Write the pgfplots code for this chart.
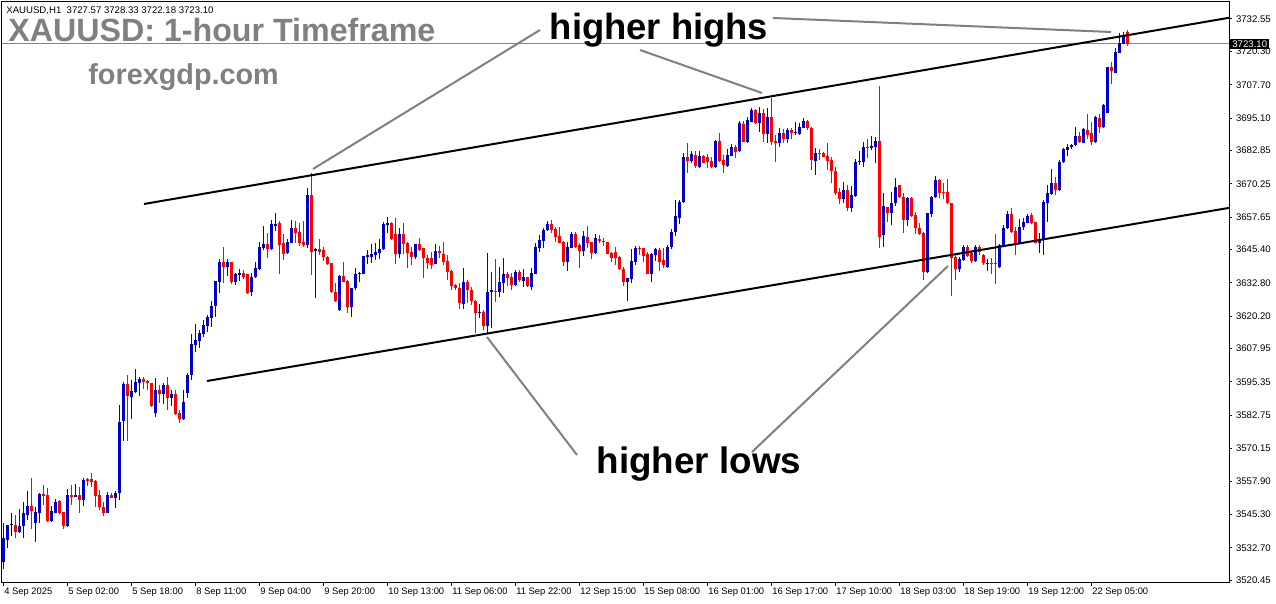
\documentclass[border=0pt]{standalone}
\usepackage{pgfplots}
\pgfplotsset{compat=1.18}
\usepackage{pgfplotstable}
\usepackage{fontspec}
\setmainfont{Liberation Sans}
\definecolor{bull}{RGB}{0,0,205}
\definecolor{bear}{RGB}{255,0,0}
\definecolor{annot}{RGB}{128,128,128}
\definecolor{pline}{RGB}{119,136,153}
% bullish (blue) candles: bar index, open, high, low, close
\pgfplotstableread{
k o h l c
0 3527.4 3541.9 3524.5 3536.2
1 3535.6 3541.3 3532.7 3541.3
4 3538.8 3547.3 3538.4 3540.9
5 3540.9 3550.0 3536.5 3545.9
6 3545.1 3554.1 3543.2 3548.5
8 3542.2 3548.2 3535.0 3546.3
9 3545.9 3553.3 3542.2 3553.0
12 3542.8 3548.5 3542.5 3546.6
13 3545.7 3551.0 3545.7 3550.1
16 3541.0 3554.8 3540.6 3552.6
18 3552.0 3556.8 3552.0 3552.8
20 3550.7 3558.9 3548.6 3558.3
26 3545.9 3553.9 3545.7 3552.6
28 3551.6 3554.3 3547.8 3553.4
29 3553.5 3586.6 3550.7 3580.3
30 3580.7 3595.5 3573.2 3594.6
32 3589.8 3595.9 3581.3 3591.9
33 3591.7 3600.2 3591.1 3595.2
34 3595.1 3597.3 3590.2 3596.5
38 3583.7 3596.7 3582.2 3592.3
40 3590.8 3594.8 3587.0 3594.2
42 3589.4 3592.3 3586.3 3590.8
45 3581.3 3592.3 3581.0 3587.6
46 3591.3 3598.9 3589.2 3598.0
47 3598.0 3613.5 3596.1 3609.6
48 3609.3 3617.3 3606.8 3611.2
49 3610.8 3615.0 3608.1 3613.7
50 3613.3 3618.8 3612.5 3616.9
51 3616.5 3620.7 3614.4 3620.0
52 3619.7 3626.1 3616.0 3624.2
53 3624.2 3633.6 3620.0 3633.5
54 3633.3 3641.7 3628.8 3640.8
56 3638.7 3641.8 3635.4 3640.8
58 3633.3 3636.7 3632.0 3636.2
59 3635.8 3637.9 3633.6 3636.7
62 3629.5 3636.4 3627.8 3635.2
63 3634.9 3640.8 3634.5 3638.6
64 3637.9 3648.4 3637.7 3646.5
65 3645.9 3654.3 3645.2 3647.5
67 3645.5 3656.6 3645.2 3655.1
68 3654.3 3659.3 3652.4 3655.1
71 3644.0 3649.3 3643.7 3648.4
72 3648.0 3656.6 3647.8 3653.4
76 3647.1 3668.5 3645.9 3666.0
78 3645.0 3645.9 3627.0 3645.5
84 3622.5 3635.8 3622.2 3635.4
87 3623.8 3631.0 3620.0 3630.7
88 3630.7 3638.5 3630.1 3636.0
89 3636.0 3637.0 3633.0 3636.7
90 3636.2 3643.1 3636.2 3642.9
91 3642.7 3645.2 3639.8 3643.3
92 3642.7 3647.4 3640.4 3643.7
93 3643.3 3648.0 3641.4 3644.3
94 3644.0 3649.3 3641.7 3645.5
95 3645.5 3655.9 3645.2 3655.1
96 3654.7 3657.7 3651.5 3655.6
99 3643.9 3653.7 3642.1 3651.1
103 3642.7 3647.5 3641.7 3647.5
108 3639.8 3647.4 3639.8 3644.9
115 3624.7 3638.3 3622.9 3633.3
119 3621.5 3624.7 3619.4 3621.9
121 3616.6 3644.2 3613.7 3629.2
122 3629.2 3637.0 3615.6 3630.1
124 3629.5 3638.9 3627.6 3633.3
125 3632.9 3642.1 3628.9 3636.0
128 3632.0 3637.7 3631.8 3636.8
130 3633.6 3637.9 3631.4 3635.2
132 3631.4 3638.5 3630.1 3636.7
133 3636.2 3647.7 3636.0 3646.5
134 3646.1 3650.9 3644.6 3649.0
135 3648.8 3653.7 3646.1 3652.8
136 3652.8 3656.2 3652.4 3654.9
141 3640.8 3648.4 3637.4 3646.5
142 3646.1 3652.2 3645.9 3651.3
145 3645.0 3652.4 3643.1 3650.5
148 3644.2 3651.2 3643.9 3649.6
156 3633.3 3634.8 3626.1 3634.5
157 3634.3 3645.5 3632.6 3641.1
158 3640.8 3646.9 3639.6 3646.1
162 3636.2 3644.2 3633.3 3643.7
163 3643.3 3645.9 3641.1 3645.5
166 3638.9 3647.0 3638.3 3646.5
167 3646.5 3653.0 3645.5 3652.0
168 3652.0 3664.1 3650.5 3658.0
169 3657.5 3664.0 3655.0 3663.5
170 3663.2 3681.8 3662.9 3680.5
172 3678.9 3682.7 3678.0 3681.5
174 3676.7 3682.7 3676.4 3680.8
178 3676.7 3686.8 3676.1 3686.4
181 3677.0 3683.3 3676.7 3681.1
182 3680.9 3685.2 3680.8 3684.3
184 3682.7 3694.0 3682.4 3693.1
186 3686.2 3695.6 3685.8 3694.4
187 3693.7 3698.8 3693.5 3698.2
189 3693.1 3699.4 3690.0 3696.9
191 3689.0 3698.8 3685.8 3695.6
194 3685.8 3691.2 3684.3 3689.3
196 3687.2 3691.2 3685.6 3690.6
198 3689.3 3693.5 3688.7 3689.4
199 3689.1 3693.4 3688.7 3691.9
200 3691.5 3695.3 3691.2 3694.0
203 3679.0 3683.7 3673.6 3682.0
210 3664.5 3671.1 3662.9 3667.9
212 3661.2 3669.4 3659.7 3666.0
213 3665.7 3679.5 3665.4 3678.6
214 3678.6 3682.8 3677.4 3679.0
215 3678.6 3686.1 3676.5 3684.3
217 3683.7 3688.3 3683.0 3684.5
218 3684.3 3687.8 3678.2 3686.4
220 3650.9 3666.7 3646.2 3661.9
222 3659.3 3667.3 3654.7 3662.9
223 3662.9 3672.3 3661.9 3668.9
226 3656.6 3665.4 3654.3 3664.8
231 3637.0 3659.3 3636.7 3659.1
232 3658.7 3665.6 3657.8 3665.4
233 3665.1 3673.2 3664.8 3671.7
239 3637.9 3642.5 3637.0 3641.7
240 3641.5 3647.1 3641.2 3646.5
243 3641.2 3647.1 3640.8 3646.2
246 3639.8 3641.7 3637.3 3640.2
249 3638.9 3647.5 3638.3 3647.1
250 3647.1 3654.7 3646.7 3653.4
251 3653.4 3660.1 3653.2 3658.8
254 3647.8 3656.8 3647.5 3653.8
255 3653.8 3657.2 3652.8 3655.9
256 3655.6 3658.7 3655.3 3658.2
259 3648.0 3651.5 3644.2 3649.3
260 3649.0 3664.1 3643.3 3663.5
261 3663.1 3669.8 3655.9 3666.7
262 3666.4 3675.7 3666.0 3670.4
264 3667.9 3679.3 3667.7 3678.6
265 3678.3 3683.7 3678.0 3683.4
266 3683.0 3685.3 3680.8 3684.0
267 3684.0 3685.3 3683.3 3684.9
268 3684.9 3691.9 3684.5 3688.3
270 3685.8 3691.2 3685.6 3690.8
273 3686.2 3695.9 3685.8 3695.6
275 3691.6 3700.4 3691.2 3700.0
276 3697.1 3714.5 3696.9 3714.5
278 3712.3 3721.5 3712.0 3720.2
279 3719.8 3727.1 3719.6 3723.4
280 3723.1 3727.8 3723.1 3726.5
}\bullT
% bearish (red) candles
\pgfplotstableread{
k o h l c
3 3541.2 3545.1 3536.5 3538.8
7 3548.5 3559.2 3539.8 3546.6
10 3553.0 3556.4 3548.8 3552.2
11 3552.6 3555.1 3542.5 3542.8
14 3550.3 3550.7 3545.4 3545.7
15 3546.1 3546.3 3539.8 3541.0
17 3552.6 3556.4 3548.8 3552.0
19 3552.6 3555.8 3545.9 3550.7
21 3558.7 3558.9 3556.0 3558.0
22 3558.7 3560.8 3555.8 3557.7
23 3558.0 3558.3 3548.2 3552.4
24 3552.6 3554.5 3547.0 3548.2
25 3548.0 3550.1 3544.7 3545.9
27 3552.6 3553.5 3551.4 3551.6
31 3594.6 3598.0 3573.2 3590.2
35 3596.3 3597.1 3592.6 3595.5
36 3595.7 3596.1 3592.3 3594.8
37 3595.1 3595.1 3586.0 3586.4
39 3592.3 3594.2 3587.3 3590.8
41 3594.2 3597.3 3584.8 3589.4
43 3590.8 3592.3 3582.9 3583.2
44 3583.7 3584.8 3579.7 3581.5
55 3640.8 3646.2 3632.9 3638.9
57 3640.8 3640.8 3632.4 3633.3
60 3636.7 3637.7 3634.3 3635.2
61 3636.0 3636.0 3628.6 3629.1
66 3647.5 3651.8 3642.1 3645.5
69 3655.6 3656.0 3636.2 3647.1
70 3647.8 3651.3 3641.5 3643.7
73 3653.4 3656.0 3647.8 3651.8
74 3652.2 3655.6 3646.8 3647.8
75 3648.4 3656.0 3646.3 3647.1
77 3666.0 3674.2 3635.8 3644.6
79 3645.5 3649.3 3643.3 3644.6
80 3645.2 3646.2 3641.2 3642.7
81 3642.7 3642.9 3639.6 3640.0
82 3640.2 3640.4 3628.9 3629.5
83 3629.5 3632.6 3625.7 3626.1
85 3635.4 3640.8 3633.0 3633.3
86 3633.5 3633.9 3621.3 3623.8
97 3655.6 3655.9 3649.0 3649.3
98 3651.1 3657.2 3639.8 3643.9
100 3651.1 3655.3 3643.9 3647.4
101 3647.7 3648.4 3638.5 3644.2
102 3644.6 3646.5 3639.6 3642.7
104 3647.5 3649.9 3644.9 3645.2
105 3645.9 3645.9 3634.8 3642.1
106 3642.3 3643.3 3637.9 3640.2
107 3642.3 3644.6 3637.9 3639.6
109 3644.9 3646.9 3642.1 3644.0
110 3643.7 3648.4 3639.6 3640.8
111 3641.1 3643.3 3633.9 3637.0
112 3637.3 3637.7 3630.1 3631.6
113 3632.0 3632.3 3630.1 3630.7
114 3631.0 3632.6 3622.9 3625.1
116 3633.3 3633.9 3625.1 3630.1
117 3630.1 3631.4 3624.4 3625.9
118 3625.9 3626.3 3613.7 3621.5
120 3621.9 3622.5 3615.0 3616.6
123 3629.8 3641.8 3625.5 3629.5
126 3636.2 3636.8 3631.8 3634.8
127 3635.2 3636.7 3630.1 3632.0
129 3636.8 3637.7 3633.3 3633.9
131 3635.2 3635.2 3631.4 3631.6
137 3654.9 3656.6 3651.5 3652.8
138 3653.2 3654.0 3648.1 3650.3
139 3650.5 3654.0 3647.7 3648.0
140 3648.4 3648.6 3639.2 3640.8
143 3651.3 3652.2 3645.9 3646.5
144 3647.1 3648.0 3638.3 3645.0
146 3650.0 3654.3 3646.1 3647.7
147 3648.4 3648.4 3641.7 3644.2
149 3649.3 3650.9 3647.7 3648.6
150 3648.8 3649.6 3646.9 3648.1
151 3648.4 3648.4 3643.6 3643.9
152 3644.2 3644.6 3640.8 3642.3
153 3644.6 3646.2 3639.6 3642.1
154 3642.5 3643.1 3637.7 3637.9
155 3638.0 3638.9 3631.6 3633.3
159 3646.1 3646.9 3643.3 3645.5
160 3645.9 3646.1 3640.8 3643.1
161 3643.7 3644.6 3636.2 3636.2
164 3645.2 3645.9 3637.3 3640.8
165 3641.5 3645.9 3638.3 3639.6
171 3680.5 3685.5 3674.5 3678.9
173 3681.1 3682.7 3676.1 3677.0
175 3680.8 3681.1 3678.0 3678.2
176 3680.5 3681.4 3676.1 3678.6
177 3678.9 3680.5 3676.1 3676.7
179 3686.4 3689.3 3678.6 3678.9
180 3679.3 3681.1 3674.5 3677.4
183 3684.3 3684.9 3679.9 3682.4
185 3692.7 3694.0 3686.2 3686.2
188 3698.2 3698.5 3692.9 3693.1
190 3697.1 3698.5 3686.2 3689.0
192 3695.6 3702.8 3684.9 3686.2
193 3686.6 3688.7 3678.6 3685.8
195 3689.3 3690.8 3685.6 3687.2
197 3690.6 3691.2 3687.2 3689.3
201 3694.0 3694.4 3690.6 3691.2
202 3691.2 3691.9 3675.5 3679.3
204 3682.0 3683.3 3679.3 3681.4
205 3682.0 3682.4 3680.3 3680.5
206 3680.7 3685.6 3675.5 3679.0
207 3679.3 3680.5 3670.4 3675.2
208 3675.2 3676.5 3666.0 3666.9
209 3667.3 3668.5 3662.6 3664.5
211 3667.9 3669.8 3660.1 3661.2
216 3684.3 3687.1 3679.9 3683.7
219 3686.4 3707.2 3645.9 3650.0
221 3661.6 3661.6 3655.9 3659.3
224 3669.8 3669.8 3664.8 3665.1
225 3665.1 3666.7 3651.5 3656.6
227 3664.8 3665.1 3657.8 3658.1
228 3658.5 3659.7 3651.3 3653.4
229 3653.4 3655.3 3650.9 3651.3
230 3651.8 3652.2 3633.9 3637.0
234 3671.7 3672.0 3664.8 3666.9
235 3667.0 3670.4 3664.4 3666.9
236 3667.0 3672.0 3662.5 3662.9
237 3663.1 3663.1 3627.9 3642.1
238 3642.5 3643.3 3633.9 3637.9
241 3646.5 3647.1 3642.5 3643.0
242 3644.0 3644.6 3640.2 3641.2
244 3646.5 3647.1 3643.3 3644.6
245 3643.3 3643.6 3639.6 3640.2
247 3640.0 3642.1 3636.2 3639.8
248 3640.0 3651.3 3632.3 3639.8
252 3658.8 3661.0 3651.8 3652.2
253 3652.4 3654.1 3643.3 3647.8
257 3658.5 3659.1 3655.1 3655.6
258 3655.7 3655.9 3647.8 3648.0
263 3670.4 3673.0 3666.0 3667.9
269 3688.3 3690.0 3685.6 3686.2
271 3690.6 3696.6 3687.1 3688.7
272 3689.3 3693.7 3684.9 3686.2
274 3695.3 3696.6 3689.6 3691.6
277 3714.5 3716.4 3708.0 3713.0
281 3727.57 3728.33 3722.18 3723.10
}\bearT
% doji (open = close)
\pgfplotstableread{
k o h l c
2 3541.2 3545.9 3537.1 3541.2
}\dojiT
\newcommand{\candleset}[2]{%
  \addplot[#2, line width=0.5pt, forget plot,
    quiver={u=0, v=\thisrow{h}-\thisrow{l}}]
    table[x=k, y=l] {#1};
  \addplot[#2, line width=1.5pt, forget plot,
    quiver={u=0, v={max(abs(\thisrow{c}-\thisrow{o}),0.38)}}]
    table[x=k, y expr={min(\thisrow{o},\thisrow{c})}] {#1};
}
\begin{document}
\begin{tikzpicture}
\fill[white] (0,0) rectangle (638pt,302pt);
\useasboundingbox (0,0) rectangle (638pt,302pt);
\begin{axis}[
  at={(1pt,10.5pt)}, anchor=south west,
  scale only axis, width=613.5pt, height=290.5pt,
  xmin=-0.325, xmax=306.425, ymin=3519.36, ymax=3738.97,
  axis line style={black, line width=0.5pt},
  tick align=outside, major tick length=1.5pt,
  tick style={black, line width=0.5pt},
  xtick pos=bottom, ytick pos=right,
  xtick={0,16,...,272},
  xticklabels={4 Sep 2025,5 Sep 02:00,5 Sep 18:00,8 Sep 11:00,9 Sep 04:00,9 Sep 20:00,10 Sep 13:00,11 Sep 06:00,11 Sep 22:00,12 Sep 15:00,15 Sep 08:00,16 Sep 01:00,16 Sep 17:00,17 Sep 10:00,18 Sep 03:00,18 Sep 19:00,19 Sep 12:00,22 Sep 05:00},
  ytick={3520.45,3532.70,3545.30,3557.90,3570.15,3582.75,3595.35,3607.95,3620.20,3632.80,3645.40,3657.65,3670.25,3682.85,3695.10,3707.70,3720.30,3732.55},
  yticklabels={3520.45,3532.70,3545.30,3557.90,3570.15,3582.75,3595.35,3607.95,3620.20,3632.80,3645.40,3657.65,3670.25,3682.85,3695.10,3707.70,3720.30,3732.55},
  xticklabel style={anchor=north west, inner sep=0pt, xshift=0.3pt, yshift=-0.8pt, font=\fontsize{4.7}{5.5}\selectfont},
  yticklabel style={anchor=west, inner sep=0pt, xshift=1.8pt, font=\fontsize{4.8}{5.5}\selectfont},
  clip=true,
]
\addplot[pline, line width=0.5pt, forget plot] coordinates {(-0.325,3723.10) (306.425,3723.10)};
\candleset{\bullT}{bull}
\candleset{\bearT}{bear}
\candleset{\dojiT}{black}
\addplot[black, line width=1pt, forget plot] coordinates {(35.175,3662.62) (306.425,3733.0)};
\addplot[black, line width=1pt, forget plot] coordinates {(50.925,3595.71) (306.425,3661.14)};
\end{axis}
% price box
\node[anchor=west, fill=black, text=white, inner xsep=1pt, inner ysep=0.8pt, font=\fontsize{4.8}{5.5}\selectfont] at (615pt,280pt) {3723.10};
% annotation lines
\draw[annot, line width=1pt] (270pt,287pt) -- (156.5pt,217.5pt);
\draw[annot, line width=1pt] (320pt,277pt) -- (381pt,255.5pt);
\draw[annot, line width=1pt] (386.5pt,293pt) -- (555.5pt,286pt);
\draw[annot, line width=1pt] (288.5pt,74.5pt) -- (243.5pt,133.5pt);
\draw[annot, line width=1pt] (376pt,76pt) -- (474pt,169pt);
% texts
\node[anchor=base west, inner sep=0pt, font=\fontsize{4.8}{5.5}\selectfont] at (3pt,295pt) {XAUUSD,H1\ \ 3727.57 3728.33 3722.18 3723.10};
\node[anchor=base west, inner sep=0pt, text=annot, font=\bfseries\fontsize{16.1}{18}\selectfont] at (4pt,281pt) {XAUUSD: 1-hour Timeframe};
\node[anchor=base west, inner sep=0pt, text=annot, font=\bfseries\fontsize{14.4}{16}\selectfont] at (44pt,259.5pt) {forexgdp.com};
\node[anchor=base, inner sep=0pt, text=black, font=\bfseries\fontsize{18.2}{20}\selectfont] at (329.5pt,282pt) {higher highs};
\node[anchor=base, inner sep=0pt, text=black, font=\bfseries\fontsize{18.4}{20}\selectfont] at (349.5pt,65pt) {higher lows};
\end{tikzpicture}
\end{document}
